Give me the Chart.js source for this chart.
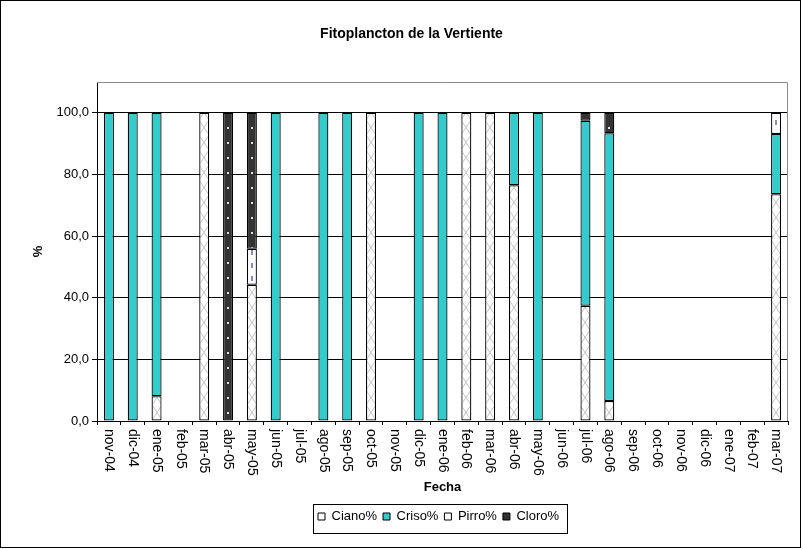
<!DOCTYPE html>
<html>
<head>
<meta charset="utf-8">
<script src="https://cdn.jsdelivr.net/npm/chart.js@4"></script>
<style>
html, body { margin: 0; padding: 0; background: #fff; }
</style>
</head>
<body>
<canvas id="fitoChart" width="803" height="550"></canvas>
<script>
// months on the x axis
const months = ['nov-04', 'dic-04', 'ene-05', 'feb-05', 'mar-05', 'abr-05', 'may-05', 'jun-05',
    'jul-05', 'ago-05', 'sep-05', 'oct-05', 'nov-05', 'dic-05', 'ene-06', 'feb-06', 'mar-06',
    'abr-06', 'may-06', 'jun-06', 'jul-06', 'ago-06', 'sep-06', 'oct-06', 'nov-06', 'dic-06',
    'ene-07', 'feb-07', 'mar-07'];

// percentages per group (null = no sample)
const ciano = [null, null, 8.0, null, 100, null, 44.2, null, null, null, null, 100, null, null, null,
    100, 100, 76.5, null, null, 37.4, 6.5, null, null, null, null, null, null, 73.6];
const criso = [100, 100, 92.0, null, null, null, null, 100, null, 100, 100, null, null, 100, 100,
    null, null, 23.5, 100, null, 60.0, 86.9, null, null, null, null, null, null, 19.5];
const pirro = [null, null, null, null, null, null, 11.7, null, null, null, null, null, null, null, null,
    null, null, null, null, null, null, null, null, null, null, null, null, null, 6.9];
const cloro = [null, null, null, null, null, 100, 44.1, null, null, null, null, null, null, null, null,
    null, null, null, null, null, 2.6, 6.6, null, null, null, null, null, null, null];

const yTicks = [0, 20, 40, 60, 80, 100];

const FONT = "'Liberation Sans', Arial, sans-serif";
const legendFills = ['#fff', '#33cccc', '#fff', '#333333'];

// small tiles used as fill patterns
function makeTile(w, h, draw) {
    const t = document.createElement('canvas');
    t.width = w; t.height = h;
    draw(t.getContext('2d'), w, h);
    return t;
}

const tiles = {
    cross: makeTile(10, 15, (g, w, h) => {
        g.fillStyle = '#fff'; g.fillRect(0, 0, w, h);
        g.strokeStyle = '#c4c4c4'; g.lineWidth = 1;
        g.beginPath();
        g.moveTo(0, 0); g.lineTo(w, h);
        g.moveTo(w, 0); g.lineTo(0, h);
        g.stroke();
    }),
    dash: makeTile(10, 13, (g, w, h) => {
        g.fillStyle = '#fff'; g.fillRect(0, 0, w, h);
        g.fillStyle = '#8a8ac4'; g.fillRect(4, 3, 2, 5);
    }),
    dots: makeTile(10, 15, (g, w, h) => {
        g.fillStyle = '#333333'; g.fillRect(0, 0, w, h);
        g.fillStyle = '#e0e0e0'; g.fillRect(4, 7, 2, 2);
    })
};

// scriptable fill: pattern lined up with each bar
function patternFill(tileName, plain) {
    return function (context) {
        const chart = context.chart;
        if (context.dataIndex === undefined || !chart.scales || !chart.scales.x) return plain;
        const x = chart.scales.x.getPixelForValue(context.dataIndex);
        const p = chart.ctx.createPattern(tiles[tileName], 'repeat');
        p.setTransform(new DOMMatrix().translate(Math.round(x) - 5, 0));
        return p;
    };
}

const LEGEND_PAD = 6;
const LEGEND_START = 318;
const TITLE_SHIFT = 17.5;

const decorPlugin = {
    id: 'decor',
    afterLayout(chart) {
        // legend and title sit a little right of the canvas centre
        const lg = chart.legend;
        const start = (lg.left + LEGEND_PAD + lg.right - lg.lineWidths[0]) / 2;
        const shift = LEGEND_START - start;
        lg.left += shift;
        lg.right += shift;
        if (chart.titleBlock) {
            chart.titleBlock.left += TITLE_SHIFT;
            chart.titleBlock.right += TITLE_SHIFT;
        }
    },
    afterDraw(chart) {
        const ctx = chart.ctx;
        const a = chart.chartArea;
        const xs = chart.scales.x;
        ctx.save();

        // plot area frame (top / right)
        ctx.strokeStyle = '#8c8c8c';
        ctx.lineWidth = 1;
        ctx.beginPath();
        ctx.moveTo(a.left, a.top + 0.5);
        ctx.lineTo(a.right - 0.5, a.top + 0.5);
        ctx.lineTo(a.right - 0.5, a.bottom);
        ctx.stroke();

        // category labels, reading downward
        ctx.fillStyle = '#000';
        ctx.font = '14px ' + FONT;
        ctx.textAlign = 'left';
        ctx.textBaseline = 'middle';
        months.forEach((m, i) => {
            const x = xs.getPixelForValue(i);
            ctx.save();
            ctx.translate(x, a.bottom + 8);
            ctx.rotate(Math.PI / 2);
            ctx.fillText(m, 0, 0);
            ctx.restore();
        });

        // legend frame
        const lg = chart.legend;
        const boxes = lg.legendHitBoxes;
        if (boxes && boxes.length) {
            const l = Math.min(...boxes.map(b => b.left)) - 5;
            const r = Math.max(...boxes.map(b => b.left + b.width)) + 8;
            const t = Math.round(lg.top);
            const b = Math.round(lg.bottom);
            ctx.strokeStyle = '#000';
            ctx.strokeRect(Math.round(l) + 0.5, t + 0.5, Math.round(r - l), b - t);
        }

        // outer border
        ctx.strokeStyle = '#000';
        ctx.strokeRect(0.5, 0.5, chart.width - 3, chart.height - 3);
        ctx.restore();
    }
};

const barBase = {
    borderColor: '#000',
    borderWidth: 1.25,
    borderSkipped: false,
    barPercentage: 0.42,
    categoryPercentage: 1.0
};

new Chart(document.getElementById('fitoChart'), {
    type: 'bar',
    data: {
        labels: months,
        datasets: [
            Object.assign({ label: 'Ciano%', data: ciano, backgroundColor: patternFill('cross', '#fff') }, barBase),
            Object.assign({ label: 'Criso%', data: criso, backgroundColor: '#33cccc' }, barBase),
            Object.assign({ label: 'Pirro%', data: pirro, backgroundColor: patternFill('dash', '#fff') }, barBase),
            Object.assign({ label: 'Cloro%', data: cloro, backgroundColor: patternFill('dots', '#333333') }, barBase)
        ]
    },
    options: {
        responsive: false,
        animation: false,
        events: [],
        layout: { padding: { left: 0, right: 15, top: 0, bottom: 17 } },
        scales: {
            x: {
                stacked: true,
                offset: true,
                ticks: { display: false },
                grid: { drawOnChartArea: false, drawTicks: true, tickLength: 4, color: '#000' },
                border: { display: true, color: '#000' },
                title: {
                    display: true,
                    text: 'Fecha',
                    color: '#000',
                    font: { family: FONT, size: 13, weight: 'bold' },
                    padding: { top: 0, bottom: 9.2 }
                },
                afterFit(scale) { scale.height = 83; }
            },
            y: {
                stacked: true,
                min: 0,
                max: 110,
                afterBuildTicks(scale) {
                    scale.ticks = yTicks.map(v => ({ value: v }));
                },
                ticks: {
                    color: '#000',
                    padding: 3,
                    font: { family: FONT, size: 13 },
                    callback: v => v.toFixed(1).replace('.', ',')
                },
                grid: { color: '#000', tickLength: 5 },
                border: { display: true, color: '#000' },
                title: {
                    display: true,
                    text: '%',
                    color: '#000',
                    font: { family: FONT, size: 13, weight: 'bold' },
                    padding: { top: 31, bottom: 0 }
                },
                afterFit(scale) { scale.width = 97; }
            }
        },
        plugins: {
            title: {
                display: true,
                text: 'Fitoplancton de la Vertiente',
                color: '#000',
                font: { family: FONT, size: 14, weight: 'bold' },
                padding: { top: 25.6, bottom: 39.6 }
            },
            legend: {
                position: 'bottom',
                labels: {
                    color: '#000',
                    boxWidth: 7,
                    boxHeight: 7,
                    padding: LEGEND_PAD,
                    font: { family: FONT, size: 13 },
                    generateLabels(chart) {
                        const items = Chart.defaults.plugins.legend.labels.generateLabels(chart);
                        items.forEach((it, i) => { it.fillStyle = legendFills[i]; it.lineWidth = 1; });
                        return items;
                    }
                }
            },
            tooltip: { enabled: false }
        }
    },
    plugins: [decorPlugin]
});
</script>
</body>
</html>
